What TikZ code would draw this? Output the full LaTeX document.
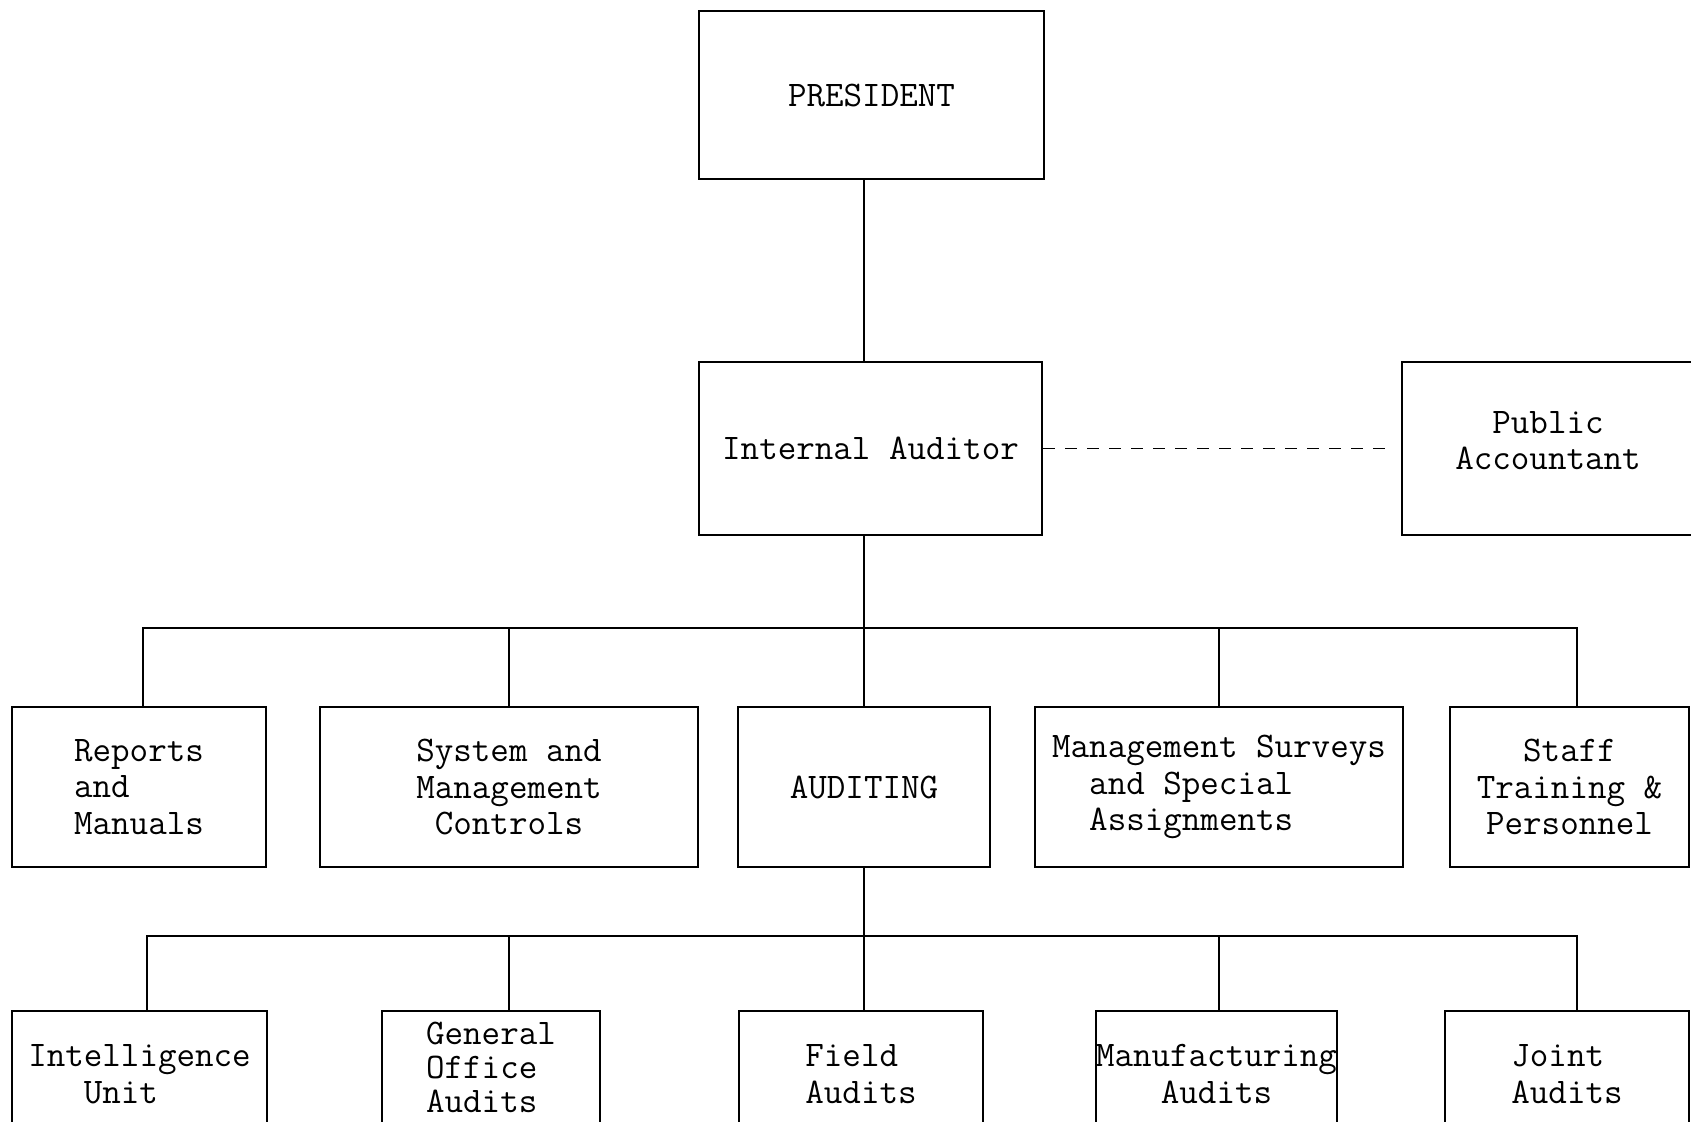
\documentclass[tikz,border=0pt]{standalone}
\usetikzlibrary{positioning}

\begin{document}
\begin{tikzpicture}[
        x=0.5pt, y=-0.5pt,
        every node/.style={font=\ttfamily\fontsize{18}{18.3}\selectfont},
        unit/.style={rectangle, draw=black, line width=1.3pt, inner sep=0pt, align=center, minimum height=80pt},
        lunit/.style={unit, align=left},
        link/.style={line width=1pt, black},
        advise/.style={line width=0.9pt, black, dash pattern=on 6pt off 5pt}
    ]
        \useasboundingbox (0,0) rectangle (1691,1121);

        % top of the chart
        \node[unit, minimum width=172.5pt, minimum height=84pt] (pres) at (871.5,95) {PRESIDENT};
        \node[unit, minimum width=171.5pt, minimum height=86.5pt] (ia) at (870.5,448.5) {Internal Auditor};
        \node[unit, minimum width=146pt, minimum height=86.5pt, text depth=8pt] (pub) at (1548,448.5) {Public\\Accountant};

        % sections under the auditor
        \node[lunit, minimum width=127pt] (rep) at (139,787) {Reports\\and\\Manuals};
        \node[unit, minimum width=189pt] (sys) at (509,787) {System and\\Management\\ Controls};
        \node[unit, minimum width=126pt] (aud) at (864,787) {AUDITING};
        \node[lunit, minimum width=184pt] (mgs) at (1219,787) {Management Surveys\\\phantom{xx}and Special\\\phantom{xx}Assignments};
        \node[unit, minimum width=119.5pt] (stf) at (1569.5,787) {Staff\\Training \&\\Personnel};

        % audit units
        \node[lunit, minimum width=127.5pt, minimum height=63pt] (int) at (139.5,1074) {Intelligence\\\phantom{xxx}Unit};
        \node[lunit, minimum width=109pt, minimum height=63pt, text depth=7pt, font=\ttfamily\fontsize{18}{17}\selectfont] (gen) at (491,1074) {General\\Office\\Audits};
        \node[lunit, minimum width=122pt, minimum height=63pt] (fld) at (861,1074) {Field\\Audits};
        \node[unit, minimum width=120.5pt, minimum height=63pt] (mfg) at (1216.5,1074) {Manufacturing\\Audits};
        \node[lunit, minimum width=122pt, minimum height=63pt] (jnt) at (1567,1074) {Joint\\Audits};

        \coordinate (b1l) at (143,628);
        \coordinate (b1r) at (1577,628);
        \coordinate (b2l) at (147,936);
        \coordinate (b2r) at (1577,936);

        \draw[link] (aud.north |- pres.south) -- (aud.north |- ia.north);
        \draw[advise] (ia.east) -- ([xshift=-5pt]pub.west);
        \draw[link] (aud.north |- ia.south) -- (aud.north);
        \draw[link] (rep.north -| b1l) -- (b1l) -- (b1r) -- (stf.north -| b1r);
        \foreach \n in {sys,mgs}
            \draw[link] (\n.north) -- (\n.north |- b1l);

        \draw[link] (aud.south) -- (aud.south |- fld.north);
        \draw[link] (int.north -| b2l) -- (b2l) -- (b2r) -- (jnt.north -| b2r);
        \draw[link] (gen.north -| sys.center) -- (b2l -| sys.center);
        \draw[link] (mfg.north -| mgs.center) -- (b2l -| mgs.center);
    \end{tikzpicture}
\end{document}
